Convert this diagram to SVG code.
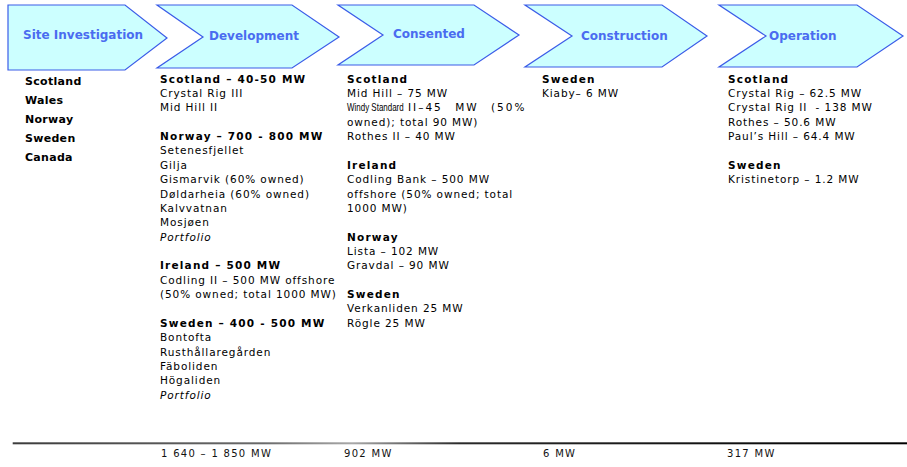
<svg xmlns="http://www.w3.org/2000/svg" width="907" height="467" viewBox="0 0 907 467">
<style>
.stage{fill:#ccffff;stroke:#3b5ce8;stroke-width:1.2;stroke-linejoin:miter}
.hd{font-family:"DejaVu Sans",Verdana,sans-serif;font-size:12px;font-weight:bold;fill:#4a6cf0}
.t{font-family:"DejaVu Sans",Verdana,sans-serif;font-size:10.5px;letter-spacing:0.9px;fill:#000}
.b{font-weight:bold;letter-spacing:1.2px}
.i{font-style:italic}
.sc{font-family:"DejaVu Sans",Verdana,sans-serif;font-size:11px;font-weight:bold;letter-spacing:0.3px;fill:#000}
.tot{font-family:"DejaVu Sans",Verdana,sans-serif;font-size:10px;letter-spacing:1.3px;fill:#111}
.nar{font-family:"Liberation Sans",Arial,sans-serif;font-size:10.5px;fill:#000}
.wide{letter-spacing:2px;word-spacing:7px}
</style>
<defs>
<linearGradient id="lineGrad" x1="0" y1="0" x2="1" y2="0">
<stop offset="0" stop-color="#3c3c3c"/>
<stop offset="0.28" stop-color="#6a6a6a"/>
<stop offset="0.38" stop-color="#a8a8a8"/>
<stop offset="0.5" stop-color="#2a2a2a"/>
<stop offset="1" stop-color="#000"/>
</linearGradient>
</defs>
<rect width="907" height="467" fill="#fff"/>

<g id="stage-site-investigation">
<polygon class="stage" points="8,5 125,5 167,38 125,70 8,70"/>
<text class="hd" x="23" y="39">Site Investigation</text>
</g>
<g id="stage-development">
<polygon class="stage" points="157,5 292,5 339,37 292,68 157,68 203,37"/>
<text class="hd" x="209" y="40">Development</text>
</g>
<g id="stage-consented">
<polygon class="stage" points="338,5 474,5 519,35 474,65 338,65 383,35"/>
<text class="hd" x="393" y="38">Consented</text>
</g>
<g id="stage-construction">
<polygon class="stage" points="525,5 662,5 707,36 662,67 525,67 572,36"/>
<text class="hd" x="581" y="40">Construction</text>
</g>
<g id="stage-operation">
<polygon class="stage" points="719,5 857,5 903,36 857,67 719,67 766,36"/>
<text class="hd" x="769" y="40">Operation</text>
</g>

<g id="list-site-investigation">
<text class="sc" x="25" y="85">Scotland</text>
<text class="sc" x="25" y="104">Wales</text>
<text class="sc" x="25" y="123">Norway</text>
<text class="sc" x="25" y="142">Sweden</text>
<text class="sc" x="25" y="161">Canada</text>
</g>

<g id="list-development">
<text class="t b" x="160" y="82.5">Scotland – 40-50 MW</text>
<text class="t" x="160" y="96.9">Crystal Rig III</text>
<text class="t" x="160" y="111.2">Mid Hill II</text>
<text class="t b" x="160" y="140">Norway – 700 - 800 MW</text>
<text class="t" x="160" y="154.3">Setenesfjellet</text>
<text class="t" x="160" y="168.7">Gilja</text>
<text class="t" x="160" y="183.1">Gismarvik (60% owned)</text>
<text class="t" x="160" y="197.5">Døldarheia (60% owned)</text>
<text class="t" x="160" y="211.8">Kalvvatnan</text>
<text class="t" x="160" y="226.2">Mosjøen</text>
<text class="t i" x="160" y="240.6">Portfolio</text>
<text class="t b" x="160" y="269.3">Ireland – 500 MW</text>
<text class="t" x="160" y="283.7">Codling II – 500 MW offshore</text>
<text class="t" x="160" y="298">(50% owned; total 1000 MW)</text>
<text class="t b" x="160" y="326.8">Sweden – 400 - 500 MW</text>
<text class="t" x="160" y="341.2">Bontofta</text>
<text class="t" x="160" y="355.5">Rusthållaregården</text>
<text class="t" x="160" y="369.9">Fäboliden</text>
<text class="t" x="160" y="384.3">Högaliden</text>
<text class="t i" x="160" y="398.6">Portfolio</text>
</g>

<g id="list-consented">
<text class="t b" x="347" y="82.5">Scotland</text>
<text class="t" x="347" y="96.9">Mid Hill – 75 MW</text>
<text class="nar" transform="translate(347 111.2) scale(0.76 1)" x="0" y="0">Windy Standard</text>
<text class="t wide" x="408" y="111.2">II–45 MW (50%</text>
<text class="t" x="347" y="125.6">owned); total 90 MW)</text>
<text class="t" x="347" y="140">Rothes II – 40 MW</text>
<text class="t b" x="347" y="168.7">Ireland</text>
<text class="t" x="347" y="183.1">Codling Bank – 500 MW</text>
<text class="t" x="347" y="197.5">offshore (50% owned; total</text>
<text class="t" x="347" y="211.8">1000 MW)</text>
<text class="t b" x="347" y="240.6">Norway</text>
<text class="t" x="347" y="254.9">Lista – 102 MW</text>
<text class="t" x="347" y="269.3">Gravdal – 90 MW</text>
<text class="t b" x="347" y="298">Sweden</text>
<text class="t" x="347" y="312.4">Verkanliden 25 MW</text>
<text class="t" x="347" y="326.8">Rögle 25 MW</text>
</g>

<g id="list-construction">
<text class="t b" x="542" y="82.5">Sweden</text>
<text class="t" x="542" y="96.9">Kiaby– 6 MW</text>
</g>

<g id="list-operation">
<text class="t b" x="728" y="82.5">Scotland</text>
<text class="t" x="728" y="96.9">Crystal Rig – 62.5 MW</text>
<text class="t" x="728" y="111.2" xml:space="preserve">Crystal Rig II  - 138 MW</text>
<text class="t" x="728" y="125.6">Rothes – 50.6 MW</text>
<text class="t" x="728" y="140">Paul’s Hill – 64.4 MW</text>
<text class="t b" x="728" y="168.7">Sweden</text>
<text class="t" x="728" y="183.1">Kristinetorp – 1.2 MW</text>
</g>

<g id="totals">
<rect x="12.7" y="442.3" width="894.3" height="2" fill="url(#lineGrad)"/>
<text class="tot" x="161" y="457.3">1 640 – 1 850 MW</text>
<text class="tot" x="344" y="457.3">902 MW</text>
<text class="tot" x="543" y="457.3">6 MW</text>
<text class="tot" x="727" y="457.3">317 MW</text>
</g>
</svg>
